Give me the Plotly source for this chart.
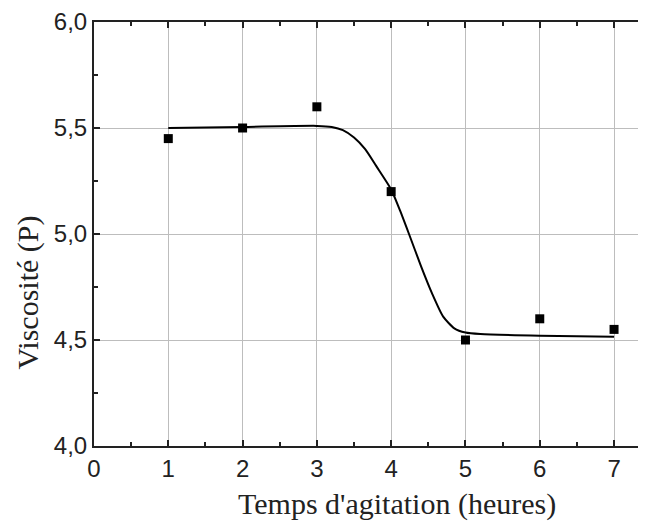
import plotly.graph_objects as go

# measured points
time_h = [1, 2, 3, 4, 5, 6, 7]
viscosity = [5.45, 5.50, 5.60, 5.20, 4.50, 4.60, 4.55]

# fitted curve
fit_x = [1, 2, 3, 3.2, 3.35, 3.5, 3.65, 3.8, 4.0, 4.12, 4.24, 4.4, 4.55, 4.7, 4.85, 5.0, 5.2, 6, 7]
fit_y = [5.50, 5.505, 5.51, 5.505, 5.49, 5.455, 5.40, 5.32, 5.21, 5.11, 5.00, 4.85, 4.72, 4.61, 4.555, 4.535, 4.528, 4.52, 4.515]

x_ticks = [0, 1, 2, 3, 4, 5, 6, 7]
y_ticks = [4.0, 4.5, 5.0, 5.5, 6.0]
y_tick_labels = ["4,0", "4,5", "5,0", "5,5", "6,0"]

x_title = "Temps d'agitation (heures)"
y_title = "Viscosité (P)"

fig = go.Figure()
fig.add_trace(go.Scatter(x=fit_x, y=fit_y, mode="lines",
                         line=dict(color="black", width=2, shape="spline", smoothing=0.6),
                         showlegend=False, hoverinfo="skip"))
fig.add_trace(go.Scatter(x=time_h, y=viscosity, mode="markers",
                         marker=dict(symbol="square", size=9, color="black"),
                         showlegend=False))

fig.update_layout(
    width=638, height=516,
    margin=dict(l=86, r=0, t=14, b=78),
    paper_bgcolor="white", plot_bgcolor="white",
    font=dict(family="Liberation Sans, Arial", color="#222"),
)
fig.update_xaxes(
    range=[0, 7.43], tickvals=x_ticks, ticktext=[str(t) for t in x_ticks],
    showgrid=True, gridcolor="#bdbdbd", gridwidth=1,
    showline=True, linecolor="#222", linewidth=2, mirror="ticks",
    ticks="inside", ticklen=6, tickcolor="#222", tickwidth=1.5,
    minor=dict(dtick=0.5, tick0=0, ticks="inside", ticklen=4, tickcolor="#222", showgrid=False),
    tickfont=dict(family="Liberation Sans, Arial", size=24),
    zeroline=False, automargin=False,
)
fig.update_yaxes(
    range=[4.0, 6.0], tickvals=y_ticks, ticktext=y_tick_labels,
    showgrid=True, gridcolor="#bdbdbd", gridwidth=1,
    showline=True, linecolor="#222", linewidth=2, mirror=False,
    ticks="inside", ticklen=6, tickcolor="#222", tickwidth=1.5,
    minor=dict(dtick=0.25, tick0=4.0, ticks="inside", ticklen=4, tickcolor="#222", showgrid=False),
    tickfont=dict(family="Liberation Sans, Arial", size=24),
    zeroline=False, automargin=False,
)
fig.add_annotation(text=x_title, xref="paper", yref="paper", x=0.549, y=0,
                   xanchor="center", yanchor="middle", yshift=-58, showarrow=False,
                   font=dict(family="Liberation Serif, Times New Roman", size=30, color="#222"))
fig.add_annotation(text=y_title, xref="paper", yref="paper", x=0, y=0.362,
                   xanchor="center", yanchor="middle", xshift=-66, textangle=-90, showarrow=False,
                   font=dict(family="Liberation Serif, Times New Roman", size=30, color="#222"))

fig.write_html("out.html")
